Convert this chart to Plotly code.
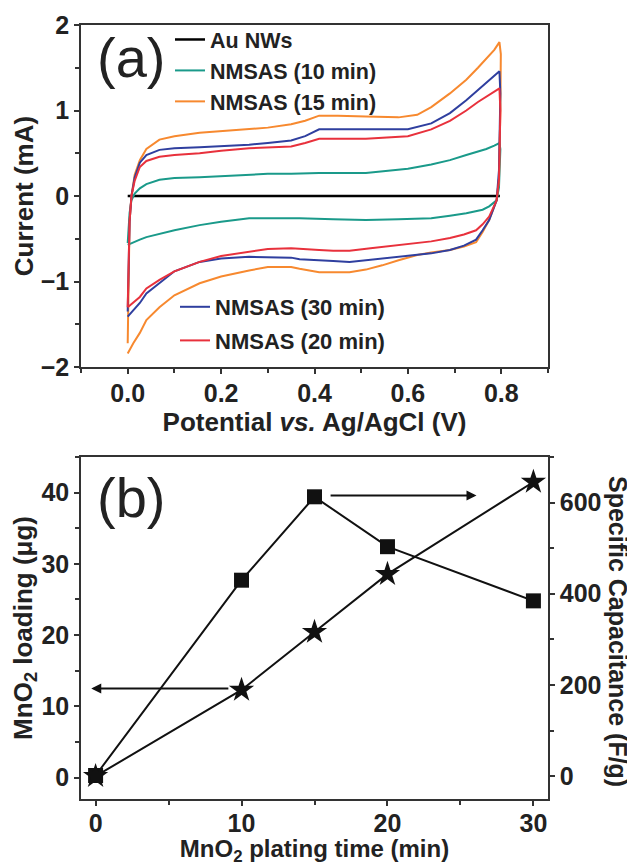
import plotly.graph_objects as go

# ---------------- Panel (a): cyclic voltammograms ----------------
au_v = [0.0, 0.2, 0.4, 0.6, 0.797]
au_i = [0.0, 0.0, 0.0, 0.0, 0.0]

# 10 min (teal)
t10_up_v = [0.0, 0.004, 0.008, 0.015, 0.026, 0.04, 0.068, 0.1, 0.154, 0.2, 0.26, 0.3, 0.35, 0.41, 0.51,
            0.6, 0.65, 0.69, 0.725, 0.75, 0.768, 0.785, 0.796, 0.798, 0.795]
t10_up_i = [-0.55, -0.2, -0.05, 0.03, 0.09, 0.14, 0.19, 0.21, 0.22, 0.23, 0.25, 0.26, 0.26, 0.27, 0.27,
            0.32, 0.37, 0.42, 0.48, 0.52, 0.55, 0.59, 0.62, 0.55, 0.1]
t10_dn_v = [0.79, 0.774, 0.76, 0.725, 0.69, 0.65, 0.58, 0.51, 0.44, 0.368, 0.3, 0.26, 0.2, 0.154, 0.1,
            0.068, 0.04, 0.026, 0.012, 0.004, 0.0]
t10_dn_i = [-0.05, -0.12, -0.16, -0.20, -0.23, -0.26, -0.27, -0.28, -0.27, -0.26, -0.26, -0.26, -0.30,
            -0.34, -0.40, -0.44, -0.48, -0.51, -0.54, -0.56, -0.57]

# 15 min (orange)
t15_up_v = [0.0, 0.004, 0.008, 0.015, 0.026, 0.04, 0.068, 0.1, 0.154, 0.2, 0.26, 0.3, 0.35, 0.38, 0.41,
            0.45, 0.51, 0.58, 0.62, 0.65, 0.69, 0.725, 0.75, 0.768, 0.785, 0.796, 0.799, 0.798, 0.795]
t15_up_i = [-1.72, -0.3, 0.0, 0.25, 0.42, 0.55, 0.66, 0.70, 0.74, 0.76, 0.78, 0.80, 0.84, 0.88, 0.94,
            0.94, 0.93, 0.92, 0.95, 1.04, 1.20, 1.36, 1.50, 1.61, 1.71, 1.80, 1.66, 1.0, 0.2]
t15_dn_v = [0.79, 0.774, 0.76, 0.746, 0.72, 0.69, 0.65, 0.62, 0.58, 0.545, 0.51, 0.475, 0.44, 0.41, 0.368,
            0.35, 0.3, 0.26, 0.2, 0.154, 0.1, 0.068, 0.04, 0.026, 0.012, 0.004, 0.0]
t15_dn_i = [-0.05, -0.28, -0.42, -0.54, -0.59, -0.63, -0.66, -0.69, -0.75, -0.81, -0.86, -0.89, -0.89,
            -0.89, -0.85, -0.83, -0.83, -0.87, -0.94, -1.02, -1.16, -1.30, -1.45, -1.60, -1.72, -1.80, -1.84]

# 20 min (red)
t20_up_v = [0.0, 0.004, 0.008, 0.015, 0.026, 0.04, 0.068, 0.1, 0.154, 0.2, 0.26, 0.3, 0.35, 0.38, 0.41,
            0.45, 0.51, 0.6, 0.65, 0.69, 0.725, 0.75, 0.768, 0.785, 0.796, 0.798, 0.795]
t20_up_i = [-1.30, -0.3, 0.0, 0.18, 0.34, 0.41, 0.46, 0.48, 0.50, 0.53, 0.56, 0.57, 0.58, 0.62, 0.67,
            0.67, 0.67, 0.70, 0.78, 0.88, 1.00, 1.10, 1.16, 1.22, 1.26, 1.0, 0.2]
t20_dn_v = [0.79, 0.774, 0.76, 0.746, 0.72, 0.69, 0.65, 0.58, 0.52, 0.475, 0.44, 0.41, 0.368, 0.35, 0.3,
            0.26, 0.2, 0.154, 0.1, 0.068, 0.04, 0.026, 0.012, 0.004, 0.0]
t20_dn_i = [-0.05, -0.24, -0.33, -0.40, -0.45, -0.49, -0.53, -0.57, -0.61, -0.64, -0.64, -0.63, -0.61,
            -0.61, -0.62, -0.65, -0.70, -0.77, -0.88, -0.98, -1.08, -1.18, -1.25, -1.29, -1.30]

# 30 min (blue)
t30_up_v = [0.0, 0.004, 0.008, 0.015, 0.026, 0.04, 0.068, 0.1, 0.154, 0.2, 0.26, 0.3, 0.35, 0.38, 0.41,
            0.45, 0.51, 0.6, 0.65, 0.69, 0.725, 0.75, 0.768, 0.785, 0.796, 0.798, 0.795]
t30_up_i = [-1.35, -0.3, 0.0, 0.22, 0.39, 0.48, 0.54, 0.56, 0.57, 0.58, 0.60, 0.62, 0.65, 0.70, 0.78,
            0.78, 0.78, 0.78, 0.85, 0.97, 1.12, 1.24, 1.32, 1.40, 1.46, 1.2, 0.3]
t30_dn_v = [0.79, 0.774, 0.76, 0.746, 0.72, 0.69, 0.65, 0.58, 0.52, 0.475, 0.44, 0.41, 0.368, 0.35, 0.3,
            0.26, 0.2, 0.154, 0.1, 0.068, 0.04, 0.026, 0.012, 0.004, 0.0]
t30_dn_i = [-0.05, -0.28, -0.40, -0.51, -0.58, -0.63, -0.67, -0.71, -0.75, -0.77, -0.76, -0.75, -0.74,
            -0.72, -0.71, -0.71, -0.73, -0.77, -0.88, -1.02, -1.14, -1.25, -1.34, -1.39, -1.41]

# ---------------- Panel (b) ----------------
plating_time = [0, 10, 15, 20, 30]
mno2_loading = [0.3, 27.7, 39.4, 32.4, 24.8]
specific_cap = [0, 189, 316, 443, 645]

# arrows (tail, head) in data units
left_arrow = dict(x0=9.2, x1=-0.3, y=12.5)
right_arrow = dict(x0=16.0, x1=26.1, y=39.6)

FONT = "Liberation Sans, Arial, sans-serif"
AXC = "#333333"
TXT = "#222222"

fig = go.Figure()

def cv(name, up_v, up_i, dn_v, dn_i, color, legend, width=2):
    fig.add_trace(go.Scatter(
        x=up_v + dn_v, y=up_i + dn_i, mode="lines", name=name,
        line=dict(color=color, width=width), legend=legend, legendgroup=name,
        xaxis="x", yaxis="y"))

fig.add_trace(go.Scatter(x=au_v, y=au_i, mode="lines", name="Au NWs",
                         line=dict(color="#000000", width=2.5), legend="legend",
                         legendgroup="Au NWs", xaxis="x", yaxis="y"))
cv("NMSAS (10 min)", t10_up_v, t10_up_i, t10_dn_v, t10_dn_i, "#1a9a8a", "legend")
cv("NMSAS (15 min)", t15_up_v, t15_up_i, t15_dn_v, t15_dn_i, "#f7892f", "legend")
cv("NMSAS (30 min)", t30_up_v, t30_up_i, t30_dn_v, t30_dn_i, "#2f3f9f", "legend2")
cv("NMSAS (20 min)", t20_up_v, t20_up_i, t20_dn_v, t20_dn_i, "#e8313c", "legend2")

# panel (b) traces
fig.add_trace(go.Scatter(x=plating_time, y=mno2_loading, mode="lines+markers",
                         line=dict(color="#111111", width=2),
                         marker=dict(symbol="square", size=15, color="#111111"),
                         showlegend=False, xaxis="x2", yaxis="y2"))
fig.add_trace(go.Scatter(x=plating_time, y=specific_cap, mode="lines+markers",
                         line=dict(color="#111111", width=2),
                         marker=dict(symbol="star", size=19, color="#111111"),
                         showlegend=False, xaxis="x2", yaxis="y3"))

tickfont = dict(family=FONT, size=25, color=TXT, weight="bold")
titlefont = dict(family=FONT, size=26, color=TXT, weight="bold")

common = dict(showline=True, linecolor=AXC, linewidth=1.5, ticks="outside", ticklen=5,
              tickwidth=1.5, tickcolor=AXC, showgrid=False, zeroline=False, tickfont=tickfont,
              automargin=False)

TOP_DOM = [0.558, 1.0]
BOT_DOM = [0.0, 0.442]

# the page body adds an 8 px offset, so the figure is 8 px smaller and margins shifted
W, H = 627, 858
L, R, T, B = 73, 87, 17, 67
PW, PH = W - L - R, H - T - B

def px_x(px):  # page pixel -> paper x
    return (px - 8 - L) / PW

def px_y(py):  # page pixel -> paper y
    return (H - B - (py - 8)) / PH

fig.update_layout(
    width=W, height=H,
    margin=dict(l=L, r=R, t=T, b=B, autoexpand=False),
    paper_bgcolor="white", plot_bgcolor="white",
    xaxis=dict(domain=[0, 1], anchor="y", range=[-0.1, 0.9], dtick=0.2, tickformat=".1f",
               mirror=True, minor=dict(dtick=0.1, ticks="outside", ticklen=4, tickcolor=AXC),
               ticklabelstandoff=-2,
               title=dict(text="Potential <i>vs.</i> Ag/AgCl (V)", font=titlefont, standoff=0),
               **common),
    yaxis=dict(domain=TOP_DOM, anchor="x", range=[-2, 2], dtick=1, mirror=True,
               minor=dict(dtick=0.5, ticks="outside", ticklen=4, tickcolor=AXC),
               title=dict(text="Current (mA)", font=titlefont, standoff=0), **common),
    xaxis2=dict(domain=[0, 1], anchor="y2", range=[-1, 31], dtick=10, mirror=True,
                minor=dict(dtick=5, ticks="outside", ticklen=4, tickcolor=AXC),
                ticklabelstandoff=-4,
                title=dict(text="MnO<sub>2</sub> plating time (min)",
                           font=dict(family=FONT, size=24, color=TXT, weight="bold"), standoff=10),
                **common),
    yaxis2=dict(domain=BOT_DOM, anchor="x2", range=[-3, 45], dtick=10,
                minor=dict(dtick=5, ticks="outside", ticklen=4, tickcolor=AXC),
                title=dict(text="MnO<sub>2</sub> loading (μg)", font=titlefont, standoff=2),
                **common),
    yaxis3=dict(overlaying="y2", anchor="x2", side="right", range=[-50, 700], dtick=200,
                minor=dict(dtick=100, ticks="outside", ticklen=4, tickcolor=AXC),
                **common),
    legend=dict(x=px_x(170), y=px_y(19), xanchor="left", yanchor="top", bgcolor="rgba(0,0,0,0)",
                font=dict(family=FONT, size=21.5, color=TXT, weight="bold"), itemwidth=30,
                traceorder="grouped", tracegroupgap=0),
    legend2=dict(x=px_x(175), y=px_y(286), xanchor="left", yanchor="top", bgcolor="rgba(0,0,0,0)",
                 font=dict(family=FONT, size=22, color=TXT, weight="bold"), itemwidth=30,
                 traceorder="grouped+reversed", tracegroupgap=2),
    annotations=[
        dict(text="(a)", xref="paper", yref="paper", x=px_x(131), y=px_y(57), showarrow=False,
             xanchor="center", yanchor="middle",
             font=dict(family=FONT, size=56, color=TXT)),
        dict(text="(b)", xref="paper", yref="paper", x=px_x(131), y=px_y(497), showarrow=False,
             xanchor="center", yanchor="middle",
             font=dict(family=FONT, size=56, color=TXT)),
        dict(text="Specific Capacitance (F/g)", xref="paper", yref="paper",
             x=px_x(618), y=px_y(631), textangle=90, showarrow=False,
             xanchor="center", yanchor="middle",
             font=dict(family=FONT, size=25, color=TXT, weight="bold")),
        dict(text="", xref="x2", yref="y2", axref="x2", ayref="y2",
             x=left_arrow["x1"], y=left_arrow["y"], ax=left_arrow["x0"], ay=left_arrow["y"],
             showarrow=True, arrowhead=2, arrowsize=1, arrowwidth=2, arrowcolor="#111111"),
        dict(text="", xref="x2", yref="y2", axref="x2", ayref="y2",
             x=right_arrow["x1"], y=right_arrow["y"], ax=right_arrow["x0"], ay=right_arrow["y"],
             showarrow=True, arrowhead=2, arrowsize=1, arrowwidth=2, arrowcolor="#111111"),
    ],
)

fig.write_html("out.html")
